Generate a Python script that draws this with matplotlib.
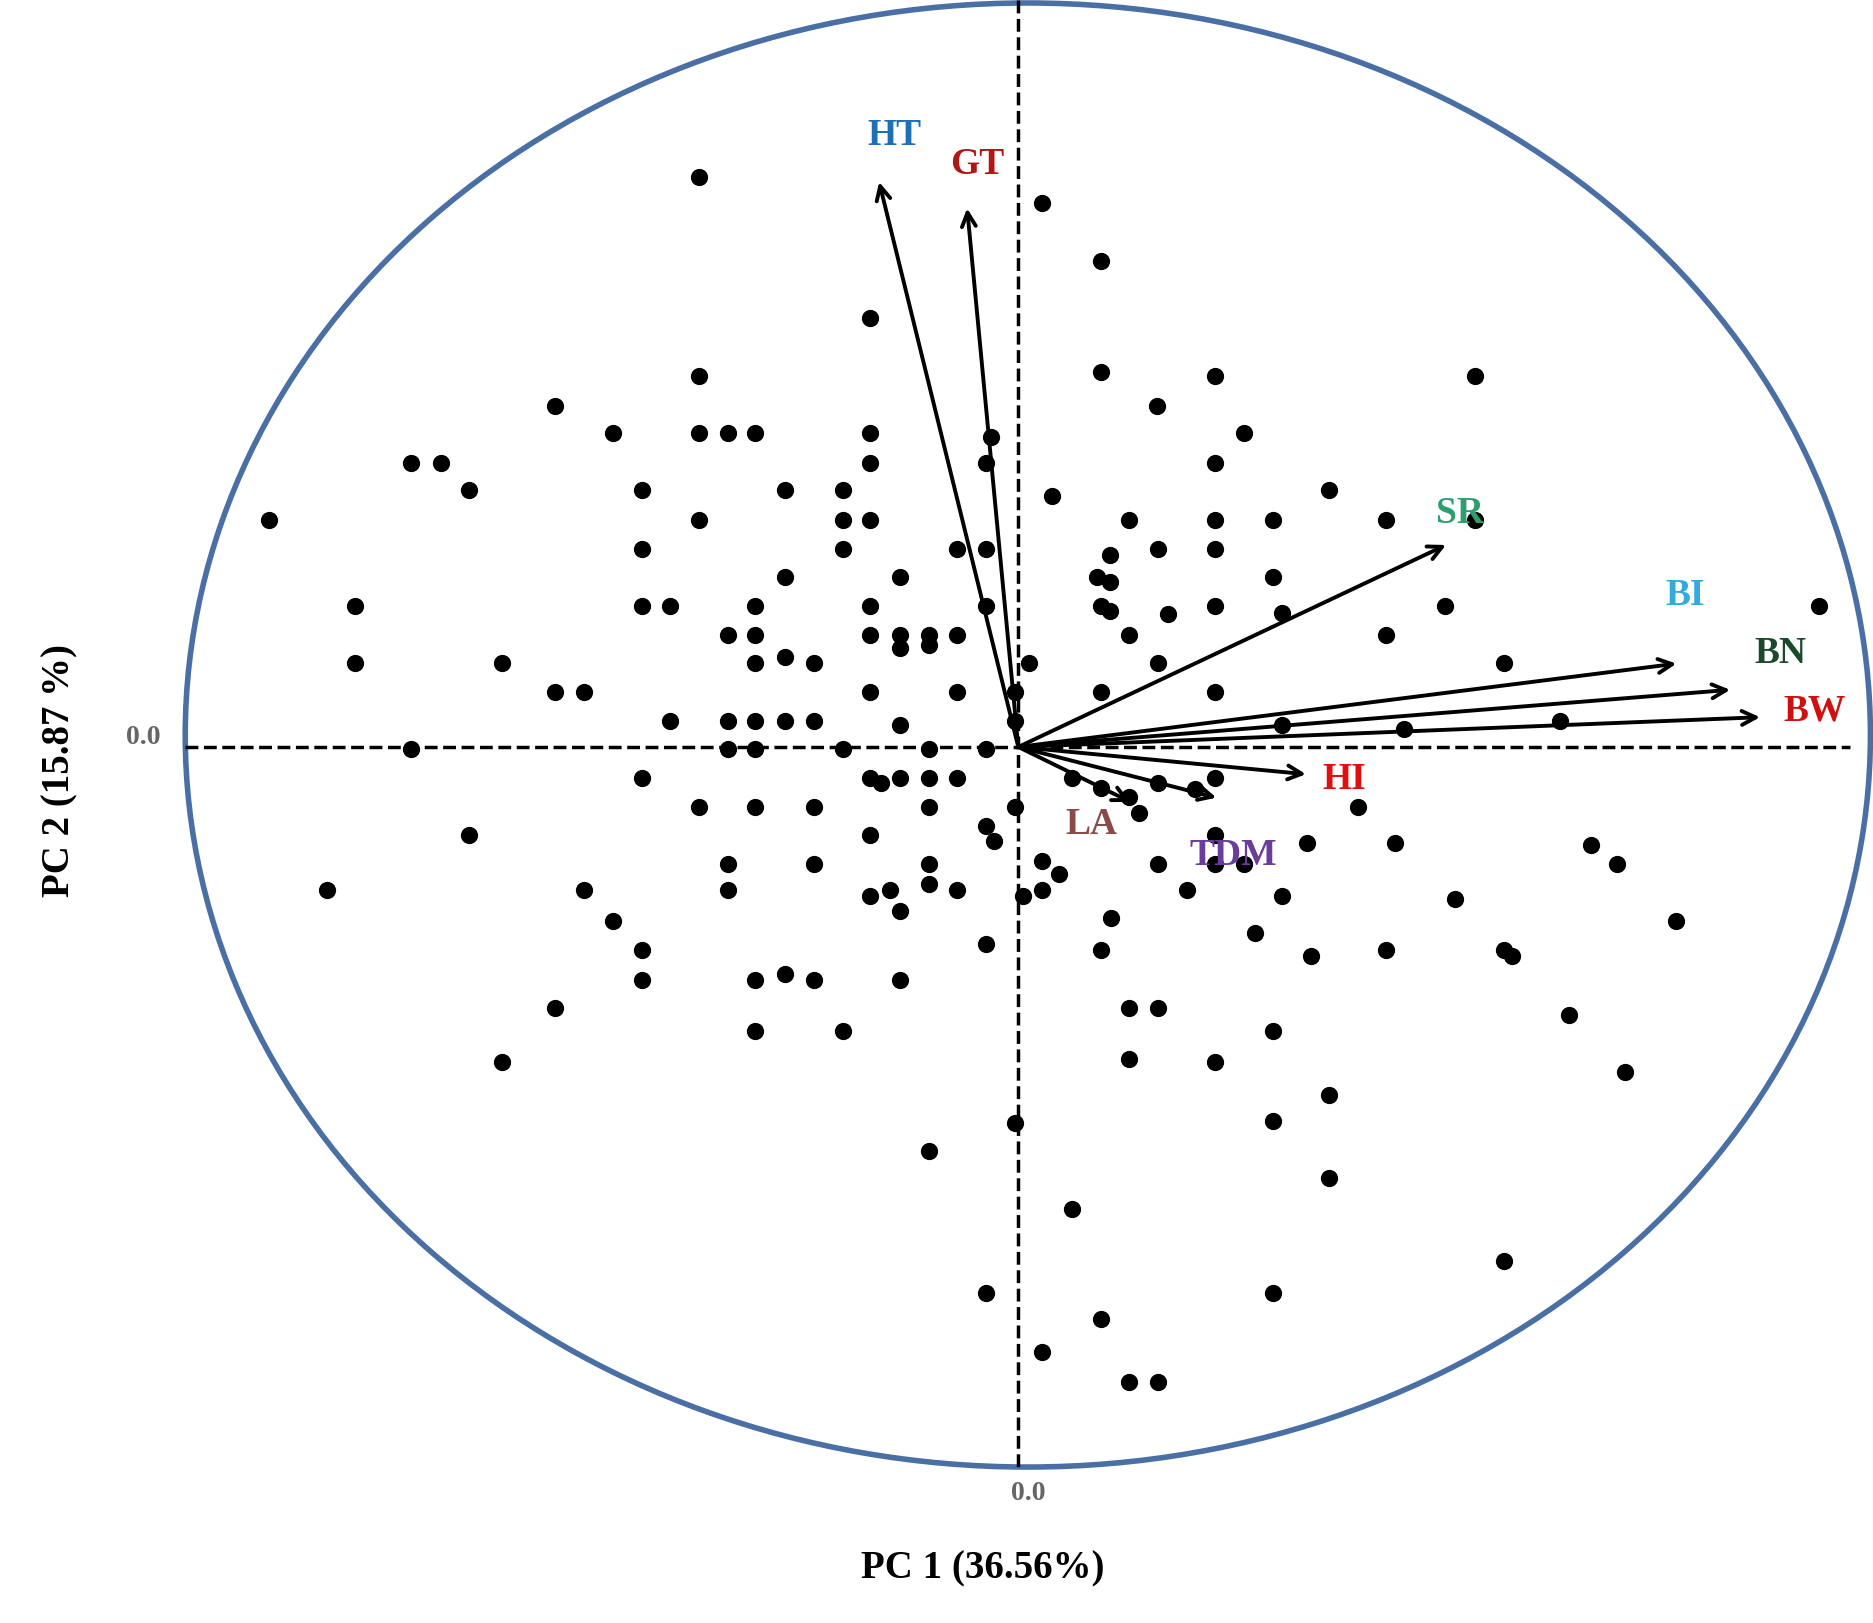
import matplotlib
matplotlib.use("Agg")
import matplotlib.pyplot as plt
from matplotlib.patches import Ellipse
import numpy as np

# scores (pixel-read, converted to plot units)
pts_px = [(585,148),(872,170),(921,218),(728,266),(585,315),(921,311),(1017,315),(1234,315),(464,340),(968,340),(513,362),(585,362),(609,362),(632,362),(728,362),(829,366),(1041,362),(344,387),(369,387),(728,387),(825,387),(1017,387),(392,410),(537,410),(657,410),(705,410),(1112,410),(880,415),(225,435),(585,435),(705,435),(728,435),(945,435),(1017,435),(1065,435),(1160,435),(1234,435),(537,459),(705,459),(801,459),(825,459),(929,464),(969,459),(918,483),(929,487),(657,483),(753,483),(1017,459),(1065,483),(297,507),(537,507),(561,507),(632,507),(728,507),(825,507),(921,507),(929,511),(1017,507),(1073,513),(1209,507),(1522,507),(977,514),(945,531),(609,531),(632,531),(728,531),(753,531),(777,531),(801,531),(1160,531),(297,555),(420,555),(632,555),(657,550),(681,555),(753,542),(777,540),(861,555),(969,555),(1258,555),(464,579),(489,579),(728,579),(801,579),(849,579),(921,579),(1017,579),(561,603),(609,603),(657,603),(632,603),(681,603),(753,607),(849,603),(1305,603),(1073,607),(1175,610),(344,627),(609,627),(632,627),(705,627),(777,627),(825,627),(537,651),(728,651),(777,651),(801,651),(753,651),(737,655),(897,651),(921,659),(1017,651),(969,655),(1000,660),(945,667),(953,680),(1136,675),(585,675),(632,675),(681,675),(849,675),(777,675),(392,699),(728,699),(825,691),(832,704),(1017,699),(1094,705),(1167,705),(1331,707),(1353,723),(609,723),(681,723),(777,723),(872,720),(886,731),(969,723),(1041,723),(1017,723),(274,745),(489,745),(609,745),(728,750),(745,745),(753,762),(777,740),(801,745),(856,750),(872,745),(993,745),(1073,750),(1217,752),(1402,771),(513,771),(930,768),(1050,781),(537,795),(825,790),(921,795),(1097,800),(1160,795),(1258,795),(1265,800),(537,820),(632,820),(657,815),(681,820),(753,820),(464,843),(945,843),(969,843),(1313,849),(632,863),(705,863),(1065,863),(420,889),(945,886),(1017,889),(1360,897),(1112,916),(849,940),(1065,938),(777,963),(1112,986),(897,1012),(1258,1055),(825,1082),(1065,1082),(921,1104),(872,1131),(945,1156),(969,1156)]
pc1 = [(x-852)/100 for x, y in pts_px]
pc2 = [(625-y)/100 for x, y in pts_px]

traits = ["HT","GT","SR","BI","BN","BW","HI","TDM","LA"]
load_x = [-1.17,-0.43,3.60,5.53,5.98,6.23,2.43,1.68,0.96]
load_y = [4.75,4.53,1.70,0.70,0.48,0.25,-0.23,-0.43,-0.47]
lab_x = [-1.04,-0.34,3.70,5.58,6.38,6.66,2.73,1.80,0.61]
lab_y = [5.12,4.87,1.95,1.27,0.78,0.30,-0.27,-0.91,-0.65]
lab_col = ["#1F6FB4","#B01818","#2E9E6E","#33AADD","#1A4A2A","#D01010","#E01010","#6A3D9A","#8B4A4A"]

fig = plt.figure(figsize=(18.74,16.23), dpi=100)
ax = fig.add_axes([0,0,1,1])
ax.set_xlim(-8.52, 7.16)
ax.set_ylim(-7.33, 6.25)
ax.axis("off")

ax.add_patch(Ellipse((0.08, 0.10), 14.10, 12.25, fill=False, ec="#4A6FA5", lw=4))
ax.plot([-6.97, 6.96], [0, 0], ls="--", color="black", lw=2.5)
ax.plot([0, 0], [6.25, -6.03], ls="--", color="black", lw=2.5)
ax.scatter(pc1, pc2, s=130, color="black", zorder=3)

for lx, ly in zip(load_x, load_y):
    ax.annotate("", xy=(lx, ly), xytext=(0, 0),
                arrowprops=dict(arrowstyle="->,head_length=1.0,head_width=0.5", color="black", lw=2.8), zorder=4)
for t, x, y, c in zip(traits, lab_x, lab_y, lab_col):
    ax.text(x, y, t, color=c, fontsize=27, fontweight="bold", family="Liberation Serif",
            ha="center", va="center", zorder=5)

ax.text(-7.32, 0.08, "0.0", fontsize=20, fontweight="bold", color="#666666", family="Liberation Serif", ha="center", va="center")
ax.text(0.08, -6.25, "0.0", fontsize=20, fontweight="bold", color="#666666", family="Liberation Serif", ha="center", va="center")
ax.text(-0.30, -6.88, "PC 1 (36.56%)", fontsize=28, fontweight="bold", family="Liberation Serif", ha="center", va="center")
ax.text(-8.02, -0.20, "PC 2 (15.87 %)", fontsize=28, fontweight="bold", family="Liberation Serif", ha="center", va="center", rotation=90)

fig.savefig("out.png", dpi=100)
